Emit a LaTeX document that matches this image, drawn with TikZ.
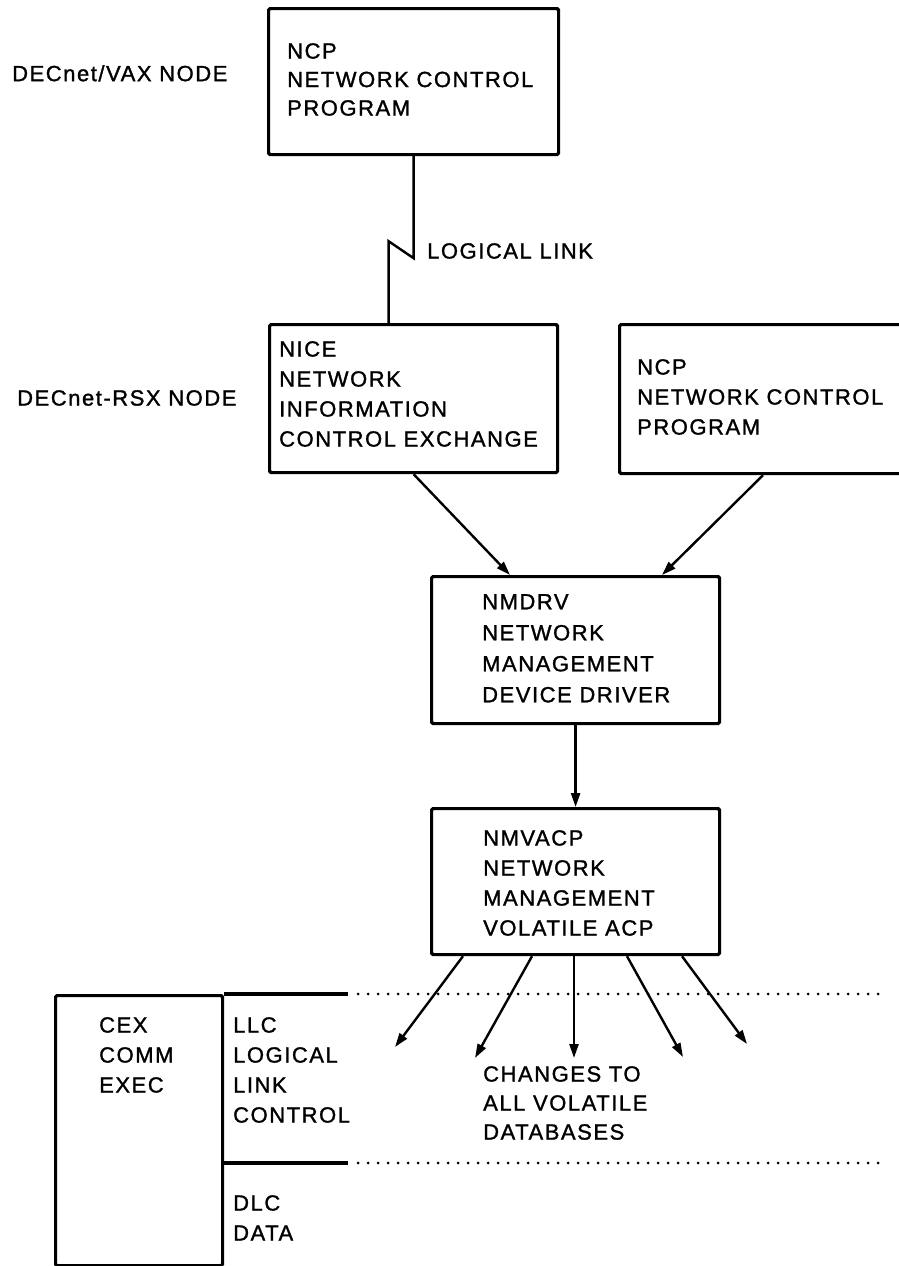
\documentclass[tikz,border=0pt]{standalone}
\usepackage{fontspec}
\setmainfont{Liberation Sans}[LetterSpace=7, FakeBold=1.3]
\usetikzlibrary{arrows.meta,calc}

\begin{document}
\begin{tikzpicture}[x=1pt, y=-1pt,
    blk/.style={draw, line width=3.2pt, rounded corners=1.5pt, anchor=north west, inner sep=0pt},
    txt/.style={anchor=north west, align=left, inner sep=0pt, font=\fontsize{22}{30}\selectfont},
    arr/.style={-{Triangle[length=14pt,width=9pt]}, line width=2.4pt},
    bar/.style={line width=3.2pt},
    dotrule/.style={line width=3pt, line cap=round, dash pattern=on 0pt off 10pt},
]
\useasboundingbox (0,0) rectangle (899,1266);

% 1. DECnet/VAX node
\node[blk, minimum width=290, minimum height=146] (vax) at (267,7) {};
\node[txt, font=\fontsize{22}{28.5}\selectfont] (vaxtxt) at (287,43) {NCP\\NETWORK CONTROL\\PROGRAM};
\node[txt] (vaxlbl) at (12,65) {DECnet/VAX NODE};

% 2. DECnet-RSX node
\node[blk, minimum width=288, minimum height=148] (nice) at (268,323) {};
\node[txt] (nicetxt) at (279,341) {NICE\\NETWORK\\INFORMATION\\CONTROL EXCHANGE};
\node[blk, minimum width=300, minimum height=149] (ncp) at (618,323) {};
\node[txt] (ncptxt) at (637,359) {NCP\\NETWORK CONTROL\\PROGRAM};
\node[txt] (rsxlbl) at (17,390) {DECnet-RSX NODE};

% 3. Driver and volatile ACP
\node[blk, minimum width=288, minimum height=147] (nmdrv) at (430,575) {};
\node[txt, font=\fontsize{22}{31}\selectfont] (nmdrvtxt) at (482,594) {NMDRV\\NETWORK\\MANAGEMENT\\DEVICE DRIVER};
\node[blk, minimum width=288, minimum height=146] (nmvacp) at (430,807) {};
\node[txt] (nmvacptxt) at (483,830) {NMVACP\\NETWORK\\MANAGEMENT\\VOLATILE ACP};

% 4. Comm exec and layers
\node[blk, minimum width=167, minimum height=270] (cex) at (54,994) {};
\node[txt] (cextxt) at (99,1017) {CEX\\COMM\\EXEC};
\node[txt] (llctxt) at (233,1017) {LLC\\LOGICAL\\LINK\\CONTROL};
\node[txt] (dlctxt) at (233,1195) {DLC\\DATA};
\node[txt, font=\fontsize{22}{29}\selectfont] (dbtxt) at (483,1066) {CHANGES TO\\ALL VOLATILE\\DATABASES};

\draw[bar] (cex.north east) -- ++(124,0) coordinate (llcend);
\draw[dotrule] ([xshift=10pt]llcend) -- (885,994);
\draw[bar] ($(cex.north east)+(0,169)$) -- ++(124,0) coordinate (dlcend);
\draw[dotrule] ([xshift=10pt]dlcend) -- (885,1163);

% logical link
\draw[line width=2.4pt] (vax.south) -- ++(0,102) coordinate (brk)
    -- ++(-25,-17) coordinate (brktop) -- (brktop |- nice.north);
\node[txt] (linklbl) at (427,243) {LOGICAL LINK};

% arrows
\draw[arr] (nice.south) -- ([xshift=80pt]nmdrv.north west);
\draw[arr] ([xshift=145pt]ncp.south west) -- ([xshift=232pt]nmdrv.north west);
\draw[arr] (nmdrv.south) -- (nmvacp.north);

\coordinate (f1) at (395,1047);
\coordinate (f2) at (475,1058);
\coordinate (f3) at (574,1058);
\coordinate (f4) at (683,1057);
\coordinate (f5) at (747,1044);
\foreach \s/\f in {33/f1,102/f2,144/f3,197/f4,252/f5}
    \draw[arr] ([xshift=\s pt]nmvacp.south west) -- (\f);
\end{tikzpicture}
\end{document}
